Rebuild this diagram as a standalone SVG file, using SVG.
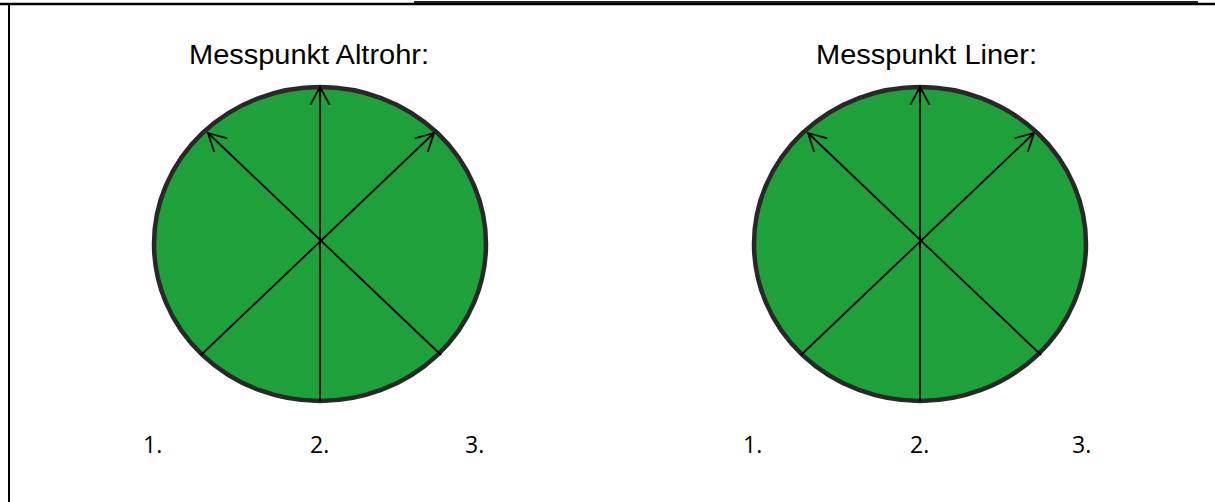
<svg xmlns="http://www.w3.org/2000/svg" width="1215" height="502" viewBox="0 0 1215 502">
<style>
.title{font-family:"Liberation Sans",Arial,sans-serif;font-size:27px;fill:#000}
.num{font-family:"Open Sans","Liberation Sans",sans-serif;font-size:23px;fill:#000}
.disk{fill:#1ea03a;stroke:#282828;stroke-width:4.5}
.ray{stroke:#000;stroke-width:1.8;fill:none}
</style>
<defs>
<marker id="arr" markerUnits="userSpaceOnUse" markerWidth="30" markerHeight="30" viewBox="-25 -15 30 30" refX="0" refY="0" orient="auto">
<path d="M-17.6,-9.5 L0,0 L-17.6,9.5" fill="none" stroke="#000" stroke-width="1.8"/>
</marker>
</defs>
<rect width="1215" height="502" fill="#fff"/>
<g id="frame">
<line x1="0" y1="4" x2="1215" y2="4" stroke="#000" stroke-width="2.5"/>
<line x1="414" y1="2" x2="1198" y2="2" stroke="#222" stroke-width="2"/>
<line x1="9" y1="3" x2="9" y2="502" stroke="#000" stroke-width="2"/>
</g>
<g id="node-altrohr">
<text class="title" x="189" y="64" textLength="240" lengthAdjust="spacingAndGlyphs">Messpunkt Altrohr:</text>
<ellipse class="disk" cx="320" cy="244" rx="166" ry="157"/>
</g>
<g id="node-liner">
<text class="title" x="816" y="64" textLength="221" lengthAdjust="spacingAndGlyphs">Messpunkt Liner:</text>
<ellipse class="disk" cx="920" cy="244" rx="166" ry="157"/>
</g>
<g id="connectors">
<line class="ray" x1="320" y1="401" x2="320" y2="87" marker-end="url(#arr)"/>
<line class="ray" x1="441" y1="355" x2="208" y2="133" marker-end="url(#arr)"/>
<line class="ray" x1="201" y1="355" x2="434" y2="133" marker-end="url(#arr)"/>
<line class="ray" x1="920" y1="401" x2="920" y2="87" marker-end="url(#arr)"/>
<line class="ray" x1="1041" y1="355" x2="808" y2="133" marker-end="url(#arr)"/>
<line class="ray" x1="801" y1="355" x2="1034" y2="133" marker-end="url(#arr)"/>
</g>
<g id="labels">
<text class="num" x="143" y="453">1.</text>
<text class="num" x="310" y="453">2.</text>
<text class="num" x="465" y="453">3.</text>
<text class="num" x="743" y="453">1.</text>
<text class="num" x="910" y="453">2.</text>
<text class="num" x="1072" y="453">3.</text>
</g>
</svg>
